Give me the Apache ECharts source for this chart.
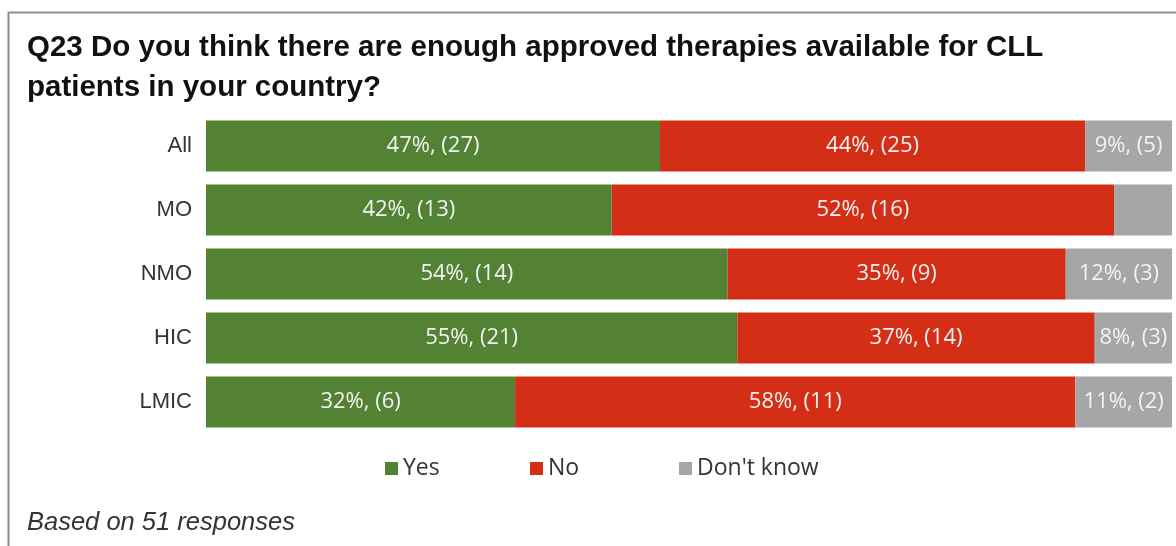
<!DOCTYPE html>
<html>
<head>
<meta charset="utf-8">
<script src="https://cdn.jsdelivr.net/npm/echarts@6/dist/echarts.min.js"></script>
<style>
  html, body { margin: 0; padding: 0; background: #fff; }
  #chart { width: 1176px; height: 546px; }
</style>
</head>
<body>
<div id="chart"></div>
<script>
// Survey groups, top to bottom
const groups = ['All', 'MO', 'NMO', 'HIC', 'LMIC'];

// Share of answers (%) per group
const yesPct = [47, 42, 54, 55, 32];
const noPct = [44, 52, 35, 37, 58];
const dkPct = [9, 6, 12, 8, 11];

// Number of respondents per answer
const yesN = [27, 13, 14, 21, 6];
const noN = [25, 16, 9, 14, 11];
const dkN = [5, 2, 3, 3, 2];

const seriesNames = ['Yes', 'No', "Don't know"];
const seriesColors = ['#548235', '#d52e16', '#a6a6a6'];

const chart = echarts.init(document.getElementById('chart'), null, { renderer: 'canvas' });

function makeSeries(idx, pct, counts, hideIdx) {
  return {
    name: seriesNames[idx],
    type: 'bar',
    stack: 'total',
    barCategoryGap: '20%',
    clip: true,
    itemStyle: { color: seriesColors[idx] },
    label: {
      show: true,
      position: 'inside',
      color: '#f2f2f2',
      fontFamily: 'Open Sans',
      fontSize: 22,
      formatter: (p) => pct[p.dataIndex] + '%, (' + counts[p.dataIndex] + ')'
    },
    emphasis: { disabled: true },
    data: pct.map((v, i) => (hideIdx.includes(i) ? { value: v, label: { show: false } } : v))
  };
}

const legendBase = {
  icon: 'rect',
  itemWidth: 13,
  itemHeight: 13,
  itemGap: 8,
  top: 452,
  textStyle: { fontFamily: 'Open Sans', fontSize: 23, color: '#333' },
  selectedMode: false
};

chart.setOption({
  animation: false,
  backgroundColor: '#fff',
  graphic: [
    {
      type: 'rect',
      shape: { x: 8.5, y: 12.5, width: 1200, height: 600 },
      style: { fill: 'none', stroke: '#8f8f8f', lineWidth: 2 },
      silent: true
    },
    {
      type: 'text',
      left: 27,
      top: 28,
      style: {
        text: 'Q23 Do you think there are enough approved therapies available for CLL\npatients in your country?',
        font: 'bold 29.5px "Liberation Sans", Arial, sans-serif',
        lineHeight: 40,
        fill: '#111'
      }
    },
    {
      type: 'text',
      left: 27,
      top: 510,
      style: {
        text: 'Based on 51 responses',
        font: 'italic 25.5px "Liberation Sans", Arial, sans-serif',
        fill: '#333'
      }
    }
  ],
  legend: [
    Object.assign({}, legendBase, { left: 380, data: ['Yes'] }),
    Object.assign({}, legendBase, { left: 525, data: ['No'] }),
    Object.assign({}, legendBase, { left: 674, data: ["Don't know"] })
  ],
  grid: { left: 206, right: 4, top: 114, height: 320, containLabel: false },
  xAxis: {
    type: 'value',
    min: 0,
    max: 100,
    show: false
  },
  yAxis: {
    type: 'category',
    data: groups,
    inverse: true,
    axisLine: { show: false },
    axisTick: { show: false },
    splitLine: { show: false },
    axisLabel: {
      margin: 14,
      fontFamily: '"Liberation Sans", Arial, sans-serif',
      fontSize: 22,
      color: '#333'
    }
  },
  series: [
    makeSeries(0, yesPct, yesN, []),
    makeSeries(1, noPct, noN, []),
    makeSeries(2, dkPct, dkN, [1])
  ]
});
</script>
</body>
</html>
